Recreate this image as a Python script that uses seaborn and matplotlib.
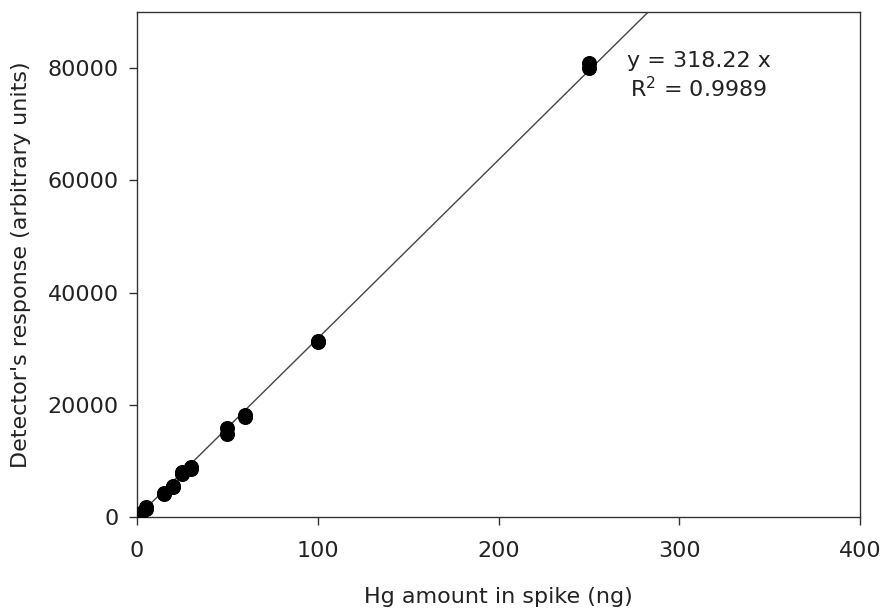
import matplotlib
matplotlib.use("Agg")
import matplotlib.pyplot as plt
import seaborn as sns
import numpy as np
import pandas as pd

hg_ng = [1, 1, 2, 5, 5, 15, 15, 20, 20, 25, 25, 30, 30, 50, 50, 60, 60, 100, 100, 250, 250]
response = [350, 250, 700, 1500, 1700, 4100, 4300, 5300, 5500, 7600, 8000, 8500, 8900,
            14800, 15800, 17900, 18100, 31100, 31300, 80000, 81000]
slope = 318.22
r2 = 0.9989
x_ticks = [0, 100, 200, 300, 400]
y_ticks = [0, 20000, 40000, 60000, 80000]

sns.set_theme(style="ticks")
plt.rcParams['font.family'] = ['DejaVu Sans']

FS = 16

fig = plt.figure(figsize=(8.83, 6.10), dpi=100)
ax = fig.add_axes([137/883, 93/610, 723/883, 505/610])

df = pd.DataFrame({"x": hg_ng, "y": response})
xl = np.array([0, 400])
sns.lineplot(x=xl, y=slope * xl, ax=ax, color="#454545", linewidth=1.0)
sns.scatterplot(data=df, x="x", y="y", ax=ax, color="black", s=100, edgecolor="black", zorder=3)

ax.set_xlim(0, 400)
ax.set_ylim(0, 90000)
ax.set_xticks(x_ticks)
ax.set_yticks(y_ticks)
ax.tick_params(direction="out", length=6, width=1, colors="#333333", labelsize=FS,
               labelcolor="#222222")
ax.tick_params(axis="x", pad=11)
ax.tick_params(axis="y", pad=7)
for s in ax.spines.values():
    s.set_visible(True)
    s.set_color("#333333")
    s.set_linewidth(1.0)
ax.set_xlabel("Hg amount in spike (ng)", fontsize=FS, color="#222222", labelpad=19)
ax.set_ylabel("Detector's response (arbitrary units)", fontsize=FS, color="#222222", labelpad=12)

ax.text(271, 81200, f"y = {slope:.2f} x", fontsize=FS, color="#222222", ha="left", va="center")
ax.text(273, 76300, f"R$^2$ = {r2}", fontsize=FS, color="#222222", ha="left", va="center")

fig.savefig("out.png", dpi=100)
